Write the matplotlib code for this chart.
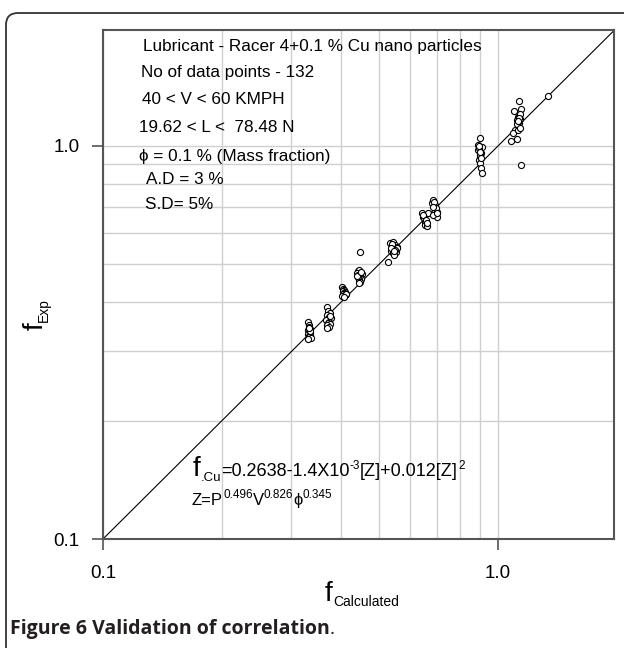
import matplotlib
matplotlib.use("Agg")
import matplotlib.pyplot as plt
from matplotlib.transforms import IdentityTransform
from matplotlib.patches import FancyBboxPatch
from matplotlib.ticker import FixedLocator, FixedFormatter, NullFormatter

plt.rcParams['font.family'] = ['Liberation Sans', 'DejaVu Sans']

# ---------------- data ----------------
xA = [0.331, 0.333, 0.332, 0.334, 0.330, 0.333, 0.335, 0.331, 0.334, 0.332, 0.333, 0.336, 0.330, 0.334, 0.332]
yA = [0.356, 0.350, 0.347, 0.343, 0.340, 0.337, 0.335, 0.333, 0.330, 0.328, 0.326, 0.324, 0.322, 0.338, 0.345]

xB = [0.370, 0.372, 0.375, 0.369, 0.373, 0.377, 0.371, 0.368, 0.374, 0.372, 0.376, 0.370, 0.373, 0.369, 0.375]
yB = [0.390, 0.380, 0.375, 0.372, 0.368, 0.366, 0.362, 0.360, 0.357, 0.355, 0.353, 0.350, 0.347, 0.344, 0.370]

xC = [0.404, 0.406, 0.408, 0.405, 0.410, 0.407, 0.412, 0.406, 0.409, 0.411, 0.404, 0.413, 0.408]
yC = [0.438, 0.433, 0.430, 0.427, 0.425, 0.423, 0.421, 0.420, 0.418, 0.417, 0.415, 0.419, 0.414]

xD = [0.441, 0.445, 0.449, 0.439, 0.443, 0.452, 0.447, 0.442, 0.450, 0.446, 0.444, 0.448, 0.440, 0.451, 0.445, 0.447]
yD = [0.480, 0.483, 0.476, 0.474, 0.470, 0.472, 0.466, 0.463, 0.460, 0.458, 0.455, 0.452, 0.468, 0.478, 0.449, 0.537]

xE = [0.533, 0.543, 0.549, 0.538, 0.554, 0.545, 0.535, 0.551, 0.541, 0.556, 0.528, 0.546, 0.540, 0.550, 0.537, 0.544]
yE = [0.566, 0.569, 0.560, 0.556, 0.552, 0.546, 0.541, 0.537, 0.533, 0.549, 0.507, 0.528, 0.562, 0.544, 0.551, 0.539]

xF = [0.641, 0.647, 0.654, 0.654, 0.660, 0.666, 0.650, 0.645, 0.658, 0.663,
      0.680, 0.686, 0.693, 0.700, 0.702, 0.686, 0.697, 0.690, 0.684, 0.699]
yF = [0.674, 0.661, 0.642, 0.630, 0.626, 0.674, 0.655, 0.668, 0.648, 0.637,
      0.715, 0.729, 0.707, 0.681, 0.661, 0.668, 0.694, 0.720, 0.700, 0.675]

xG = [0.900, 0.888, 0.909, 0.892, 0.904, 0.900, 0.897, 0.900, 0.904, 0.909, 0.895, 0.902, 0.893, 0.906, 0.898]
yG = [1.046, 1.006, 0.996, 0.977, 0.961, 0.939, 0.921, 0.903, 0.877, 0.852, 0.990, 0.950, 1.000, 0.930, 0.968]

xH = [1.132, 1.099, 1.142, 1.126, 1.115, 1.137, 1.132, 1.126, 1.104, 1.089, 1.126,
      1.077, 1.118, 1.146, 1.130, 1.122, 1.135, 1.128, 1.120, 1.134, 1.124]
yH = [1.300, 1.225, 1.240, 1.183, 1.165, 1.169, 1.142, 1.120, 1.098, 1.077, 1.098,
      1.028, 1.042, 0.895, 1.190, 1.150, 1.205, 1.175, 1.135, 1.110, 1.160]

xI = [1.341]
yI = [1.341]

f_calc = xA + xB + xC + xD + xE + xF + xG + xH + xI
f_exp = yA + yB + yC + yD + yE + yF + yG + yH + yI

axis_min, axis_max_x, axis_max_y = 0.1, 1.967, 1.973
major_ticks = [0.1, 1.0]
major_labels = ["0.1", "1.0"]
grid_vals = [0.2, 0.3, 0.4, 0.5, 0.6, 0.7, 0.8, 0.9]

info_lines = [
    ("Lubricant - Racer 4+0.1 % Cu nano particles", 143, 46),
    ("No of data points - 132", 141, 72),
    ("40 < V < 60 KMPH", 142, 99),
    ("19.62 < L <  78.48 N", 139, 127),
    ("ϕ = 0.1 % (Mass fraction)", 139, 156),
    ("A.D = 3 %", 146, 180),
    ("S.D= 5%", 145, 204),
]

# ---------------- figure ----------------
W, H = 624, 648
fig = plt.figure(figsize=(W / 100, H / 100), dpi=100)
L, R, B, T = 103, 614, 539, 30
ax = fig.add_axes([L / W, (H - B) / H, (R - L) / W, (B - T) / H])
ax.set_xscale('log')
ax.set_yscale('log')
ax.set_xlim(axis_min, axis_max_x)
ax.set_ylim(axis_min, axis_max_y)

for axis in (ax.xaxis, ax.yaxis):
    axis.set_major_locator(FixedLocator(major_ticks))
    axis.set_major_formatter(FixedFormatter(major_labels))
    axis.set_minor_locator(FixedLocator(grid_vals))
    axis.set_minor_formatter(NullFormatter())
ax.tick_params(which='major', direction='out', length=8, width=1.2, color='#555555',
               labelsize=13.5, pad=9)
ax.tick_params(which='minor', length=0)
ax.tick_params(axis='x', which='major', pad=11)
ax.grid(True, which='minor', color='#cfcfcf', lw=1.0)
ax.grid(True, which='major', color='#cfcfcf', lw=1.0)
for sp in ax.spines.values():
    sp.set_color('#555555')
    sp.set_linewidth(1.5)

ax.axline((0.1, 0.1), (1.0, 1.0), color='black', lw=0.8, zorder=2)
ax.plot(f_calc, f_exp, 'o', ms=4.4, mfc='white', mec='black', mew=0.8, zorder=3, clip_on=False)

# ---------------- texts ----------------
for s, x, y in info_lines:
    fig.text(x / W, 1 - y / H, s, fontsize=12.3, va='center', ha='left', color='black')

renderer = fig.canvas.get_renderer()
ID = IdentityTransform()


def chain(x, y, parts, rotation=0, family=None):
    """x, y in top-down pixels (baseline start); parts = (text, size, raise_px)."""
    for s, size, dy in parts:
        kw = dict(fontsize=size, transform=ID, ha='left', va='baseline')
        if family:
            kw['family'] = family
        if rotation == 0:
            t = fig.text(x, H - y + dy, s, **kw)
            x += t.get_window_extent(renderer).width
        else:
            t = fig.text(x - dy, H - y, s, rotation=90, rotation_mode='anchor', **kw)
            y -= t.get_window_extent(renderer).height


chain(193, 476, [("f", 20, 0), (".Cu", 9.5, -5), ("=0.2638-1.4X10", 13, 0), ("-3", 8.5, 7),
                 ("[Z]+0.012[Z]", 13, 0), ("2", 8.5, 7)])
chain(192, 505, [("Z=P", 12, 0), ("0.496", 8.5, 7), ("V", 12, 0), ("0.826", 8.5, 7),
                 ("ϕ", 12, 0), ("0.345", 8.5, 7)], family=['Liberation Sans', 'DejaVu Sans'])
chain(325, 601, [("f", 20, 0), ("Calculated", 10, -5)])
chain(43, 330, [("f", 20, 0), ("Exp", 10, -5)], rotation=90)

fig.text(10 / W, 1 - 634 / H, "Figure 6 Validation of correlation", fontsize=14,
         fontweight='bold', family=['Open Sans', 'DejaVu Sans'], color='#231f20',
         ha='left', va='baseline')
cap = fig.texts[-1]
xe = cap.get_window_extent(renderer).x1
fig.text(xe, H - 634, ".", fontsize=14, family=['Open Sans', 'DejaVu Sans'],
         color='#231f20', ha='left', va='baseline', transform=ID)

frame = FancyBboxPatch((6, -60), 700, H - 13 + 60, boxstyle="round,pad=0,rounding_size=12",
                       transform=ID, fill=False, edgecolor='#333333', lw=1.3)
fig.add_artist(frame)

fig.savefig("out.png", dpi=100)
